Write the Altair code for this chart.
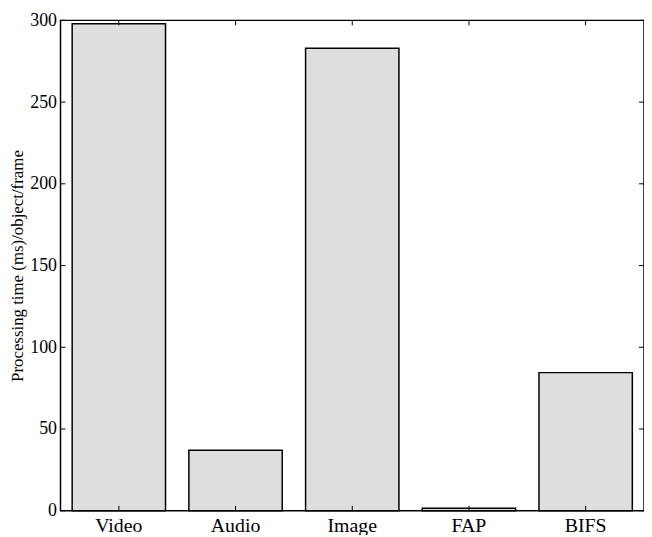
import altair as alt
import pandas as pd

categories = ["Video", "Audio", "Image", "FAP", "BIFS"]
values = [298, 37, 283, 1.5, 84.5]
yticks = [0, 50, 100, 150, 200, 250, 300]

df = pd.DataFrame({"cat": categories, "val": values})
tdf = pd.DataFrame({"t": yticks})

W, H = 589, 495
FONT = "Liberation Serif"

xsc = alt.Scale(domain=categories, paddingInner=0.2, paddingOuter=0.1)
ysc = alt.Scale(domain=[0, 300], nice=False)

bars = alt.Chart(df).mark_bar(
    fill="#dedede", stroke="black", strokeWidth=1.5
).encode(
    x=alt.X("cat:N", scale=xsc, sort=categories,
            axis=alt.Axis(title=None, ticks=False, domain=False, labelAngle=0,
                          labelFont=FONT, labelFontSize=20, labelColor="black",
                          labelPadding=5)),
    y=alt.Y("val:Q", scale=ysc,
            axis=alt.Axis(title="Processing time (ms)/object/frame", values=yticks,
                          ticks=False, domain=False, grid=False,
                          labelFont=FONT, labelFontSize=18, labelColor="black",
                          labelPadding=4, titleFont=FONT, titleFontSize=17,
                          titleFontWeight="normal", titleColor="black",
                          titlePadding=3)),
)

ytl = alt.Chart(tdf).mark_rule(color="black", strokeWidth=1).encode(
    y=alt.Y("t:Q", scale=ysc), x=alt.value(0), x2=alt.value(5))
ytr = alt.Chart(tdf).mark_rule(color="black", strokeWidth=1).encode(
    y=alt.Y("t:Q", scale=ysc), x=alt.value(W - 5), x2=alt.value(W))
xtt = alt.Chart(df).mark_rule(color="black", strokeWidth=1).encode(
    x=alt.X("cat:N", scale=xsc, sort=categories), y=alt.value(0), y2=alt.value(5))
xtb = alt.Chart(df).mark_rule(color="black", strokeWidth=1).encode(
    x=alt.X("cat:N", scale=xsc, sort=categories), y=alt.value(H - 5), y2=alt.value(H))

chart = alt.layer(bars, ytl, ytr, xtt, xtb).properties(
    width=W, height=H,
    background="white",
    autosize=alt.AutoSizeParams(type="none"),
    padding={"left": 53, "top": 10, "right": 0, "bottom": 22},
).configure_view(stroke="black", strokeWidth=1.5)

chart.save("out.html", embed_options={"renderer": "svg", "actions": False})
